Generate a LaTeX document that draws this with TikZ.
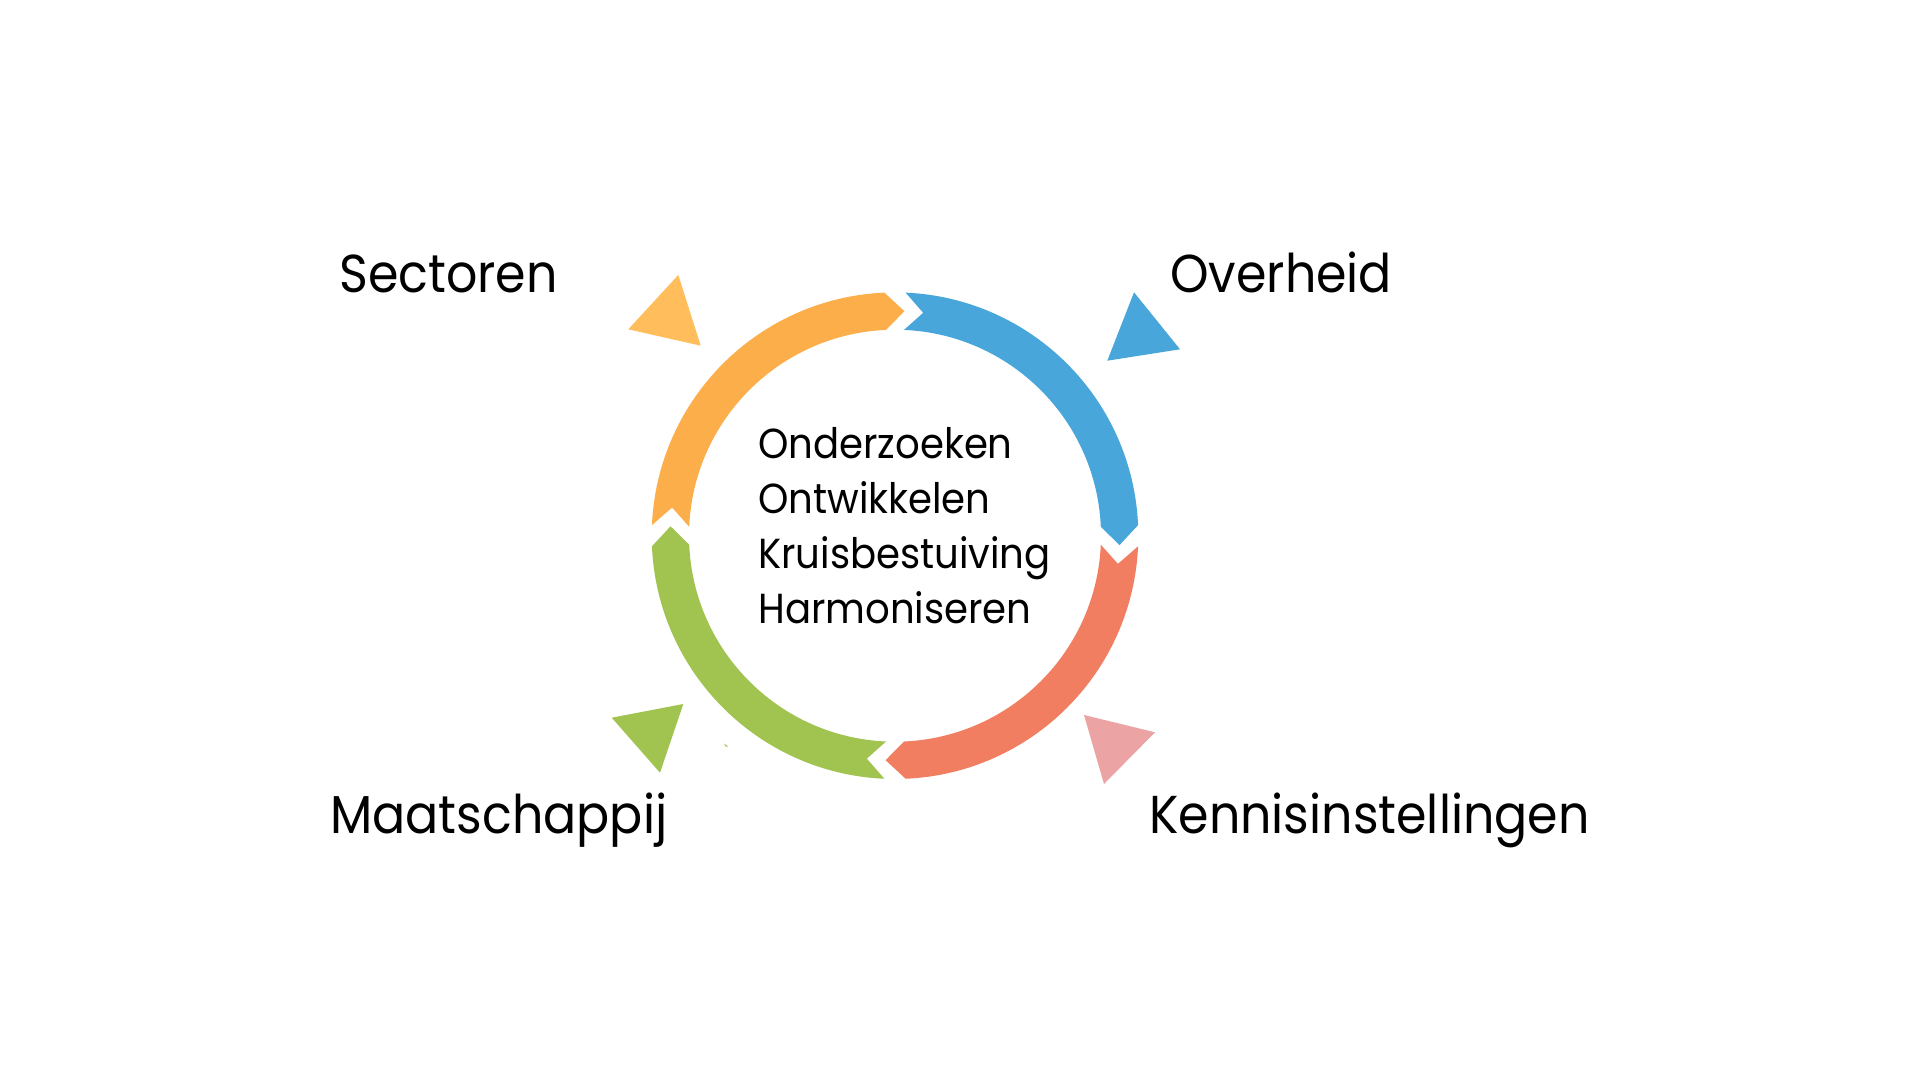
\documentclass[tikz,border=0pt]{standalone}
\usepackage{fontspec}
\setmainfont{Poppins}[FakeStretch=0.92]
\usetikzlibrary{arrows}

\definecolor{ringOrange}{RGB}{252,174,74}
\definecolor{triOrange}{RGB}{255,190,91}
\definecolor{ringBlue}{RGB}{72,166,219}
\definecolor{ringRed}{RGB}{242,126,97}
\definecolor{triRed}{RGB}{235,163,163}
\definecolor{ringGreen}{RGB}{161,195,80}

% ring arrow: #1 colour, #2 tail angle, #3 head angle
\newcommand{\ringarrow}[3]{%
\fill [#1] (#2+2.5:243.3) arc [start angle=#2+2.5, end angle=#3-2.5, radius=243.3]
  -- (#3+2.4:224.7) -- (#3-2.5:206) arc [start angle=#3-2.5, end angle=#2+2.5, radius=206]
  -- (#2+7.2:224.7) -- cycle;}

\begin{document}
\begin{tikzpicture}[x=0.75pt,y=0.75pt,yscale=-1,xscale=1,
  cornertext/.style={anchor=base west,inner sep=0pt,font=\fontsize{40}{48}\selectfont},
  centertext/.style={anchor=base west,inner sep=0pt,font=\fontsize{31.5}{38}\selectfont}]
\path [fill=white] (0,0) rectangle (1920,1080);

%Ring arrows
\begin{scope}[shift={(895,535.7)}]
\ringarrow{ringOrange}{180}{270}
\ringarrow{ringBlue}{270}{360}
\ringarrow{ringRed}{0}{90}
\ringarrow{ringGreen}{90}{180}
\end{scope}

%Triangles
\fill [triOrange] (678.3,275) -- (628.3,329.3) -- (700.7,345.7) -- cycle;
\fill [ringBlue] (1134,292.3) -- (1180,349.3) -- (1107.3,360.7) -- cycle;
\fill [ringGreen] (611.7,717.7) -- (683.3,704) -- (660,772.7) -- cycle;
\fill [triRed] (1084,715) -- (1155,732.3) -- (1104,784) -- cycle;
\fill [ringGreen] (724,743.5) -- (728,746.5) -- (725.5,746.5) -- cycle;

% Text Node
\node (sectoren) at (339,293) [cornertext] {Sectoren};
% Text Node
\node (overheid) at (1170,293) [cornertext] {Overheid};
% Text Node
\node (maatschappij) at (330,833) [cornertext] {Maatschappij};
% Text Node
\node (kennis) at (1149,833) [cornertext] {Kennisinstellingen};

% Text Node
\node (onderzoeken) at (758,458) [centertext] {Onderzoeken};
% Text Node
\node (ontwikkelen) at (758,513.3) [centertext] {Ontwikkelen};
% Text Node
\node (kruisbestuiving) at (758,568.5) [centertext] {Kruisbestuiving};
% Text Node
\node (harmoniseren) at (758,623.5) [centertext] {Harmoniseren};

\end{tikzpicture}
\end{document}
